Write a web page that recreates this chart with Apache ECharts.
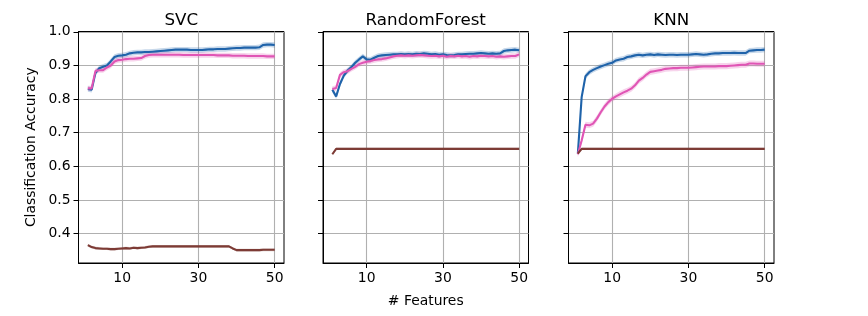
<!DOCTYPE html>
<html>
<head>
<meta charset="utf-8">
<script src="https://cdn.jsdelivr.net/npm/echarts@6/dist/echarts.min.js"></script>
<style>
html,body{margin:0;padding:0;background:#fff;}
#chart{width:868px;height:316px;}
</style>
</head>
<body>
<div id="chart"></div>
<script>
const features = [1,2,3,4,5,6,7,8,9,10,11,12,13,14,15,16,17,18,19,20,21,22,23,24,25,26,27,28,29,30,31,32,33,34,35,36,37,38,39,40,41,42,43,44,45,46,47,48,49,50];
const panelTitles = ['SVC','RandomForest','KNN'];
const xTicks = [10,30,50];
const yTicks = [0.4,0.5,0.6,0.7,0.8,0.9,1.0];

const svcBlue = [0.830,0.828,0.878,0.892,0.896,0.900,0.912,0.925,0.929,0.930,0.932,0.936,0.938,0.939,0.939,0.940,0.940,0.941,0.942,0.943,0.944,0.945,0.946,0.947,0.947,0.947,0.947,0.946,0.946,0.946,0.946,0.947,0.948,0.948,0.949,0.949,0.949,0.950,0.951,0.952,0.952,0.953,0.953,0.953,0.953,0.954,0.961,0.962,0.962,0.961];
const svcPink = [0.832,0.832,0.884,0.886,0.886,0.894,0.900,0.912,0.916,0.917,0.919,0.920,0.920,0.921,0.922,0.928,0.931,0.932,0.932,0.932,0.932,0.932,0.932,0.932,0.932,0.931,0.931,0.931,0.931,0.931,0.931,0.931,0.931,0.931,0.930,0.930,0.930,0.930,0.929,0.929,0.929,0.929,0.928,0.928,0.928,0.928,0.928,0.927,0.927,0.927];
const svcBrown = [0.366,0.360,0.357,0.356,0.355,0.355,0.354,0.354,0.355,0.356,0.357,0.356,0.358,0.357,0.358,0.359,0.361,0.362,0.362,0.362,0.362,0.362,0.362,0.362,0.362,0.362,0.362,0.362,0.362,0.362,0.362,0.362,0.362,0.362,0.362,0.362,0.362,0.362,0.356,0.351,0.351,0.351,0.351,0.351,0.351,0.351,0.352,0.352,0.352,0.352];

const rfBlue = [0.828,0.808,0.845,0.870,0.885,0.895,0.908,0.918,0.927,0.918,0.917,0.923,0.928,0.930,0.931,0.932,0.933,0.933,0.934,0.933,0.934,0.933,0.935,0.934,0.936,0.935,0.933,0.934,0.932,0.933,0.931,0.930,0.931,0.933,0.933,0.934,0.935,0.935,0.936,0.937,0.936,0.935,0.936,0.935,0.936,0.943,0.945,0.946,0.947,0.945];
const rfPink = [0.830,0.833,0.872,0.880,0.883,0.890,0.896,0.904,0.908,0.911,0.913,0.916,0.918,0.919,0.921,0.924,0.927,0.929,0.930,0.929,0.930,0.929,0.930,0.931,0.930,0.929,0.928,0.929,0.927,0.929,0.926,0.928,0.927,0.929,0.927,0.928,0.926,0.928,0.927,0.929,0.928,0.927,0.928,0.926,0.927,0.926,0.927,0.928,0.928,0.933];
const rfBrown = [0.636,0.652,0.652,0.652,0.652,0.652,0.652,0.652,0.652,0.652,0.652,0.652,0.652,0.652,0.652,0.652,0.652,0.652,0.652,0.652,0.652,0.652,0.652,0.652,0.652,0.652,0.652,0.652,0.652,0.652,0.652,0.652,0.652,0.652,0.652,0.652,0.652,0.652,0.652,0.652,0.652,0.652,0.652,0.652,0.652,0.652,0.652,0.652,0.652,0.652];

const knnBlue = [0.638,0.806,0.868,0.880,0.887,0.892,0.897,0.901,0.905,0.908,0.915,0.918,0.920,0.925,0.927,0.930,0.932,0.930,0.932,0.933,0.931,0.933,0.932,0.931,0.932,0.932,0.931,0.932,0.932,0.932,0.933,0.934,0.933,0.932,0.933,0.935,0.936,0.936,0.937,0.937,0.937,0.938,0.937,0.937,0.937,0.944,0.945,0.946,0.946,0.947];
const knnPink = [0.636,0.677,0.724,0.722,0.727,0.742,0.761,0.778,0.791,0.801,0.808,0.814,0.820,0.825,0.831,0.841,0.855,0.863,0.873,0.881,0.883,0.885,0.887,0.890,0.891,0.892,0.892,0.893,0.893,0.893,0.894,0.895,0.896,0.897,0.897,0.897,0.897,0.898,0.898,0.898,0.899,0.900,0.901,0.902,0.902,0.906,0.906,0.905,0.905,0.905];
const knnBrown = [0.638,0.652,0.652,0.652,0.652,0.652,0.652,0.652,0.652,0.652,0.652,0.652,0.652,0.652,0.652,0.652,0.652,0.652,0.652,0.652,0.652,0.652,0.652,0.652,0.652,0.652,0.652,0.652,0.652,0.652,0.652,0.652,0.652,0.652,0.652,0.652,0.652,0.652,0.652,0.652,0.652,0.652,0.652,0.652,0.652,0.652,0.652,0.652,0.652,0.652];

// band half-widths (blue, pink, brown) per panel
const bandSVC = [0.008, 0.008, 0.004];
const bandRF = [0.008, 0.008, 0.003];
const bandKNN = [0.008, 0.009, 0.003];

const panelSeries = [[svcBlue, svcPink, svcBrown],[rfBlue, rfPink, rfBrown],[knnBlue, knnPink, knnBrown]];
const panelBands = [bandSVC, bandRF, bandKNN];
const lineColors = ['#1f63aa', '#e055b5', '#7d3b35'];
const bandColors = ['rgba(31,99,170,0.25)', 'rgba(224,85,181,0.25)', 'rgba(125,59,53,0.28)'];

const gridLefts = [78.5, 323, 568.5];
const gridW = 205.5;
const gridTop = 31.5, gridH = 231.5;
const FONT = 'DejaVu Sans';

const grids = [], xAxes = [], yAxes = [], series = [], graphics = [];
for (let p = 0; p < 3; p++) {
  grids.push({left: gridLefts[p], top: gridTop, width: gridW, height: gridH, show: true,
    borderColor: '#000', borderWidth: 1, backgroundColor: 'transparent'});
  xAxes.push({type: 'value', gridIndex: p, min: -1.45, max: 52.45,
    axisLine: {show: true, onZero: false, lineStyle: {color: '#000', width: 1}},
    axisTick: {show: true, length: 5, lineStyle: {color: '#000', width: 1}, customValues: xTicks},
    axisLabel: {show: true, customValues: xTicks, margin: 8, color: '#000', fontSize: 13.9, fontFamily: FONT},
    splitLine: {show: true, lineStyle: {color: '#b0b0b0', width: 1.1}},
    name: p === 1 ? '# Features' : '', nameLocation: 'middle', nameGap: 31,
    nameTextStyle: {color: '#000', fontSize: 13.9, fontFamily: FONT}});
  yAxes.push({type: 'value', gridIndex: p, min: 0.3127, max: 1.001,
    axisLine: {show: true, onZero: false, lineStyle: {color: '#000', width: 1}},
    axisTick: {show: true, length: 5, lineStyle: {color: '#000', width: 1}, customValues: yTicks},
    axisLabel: {show: p === 0, customValues: yTicks, margin: 8, color: '#000', fontSize: 13.9, fontFamily: FONT,
      formatter: v => v.toFixed(1)},
    splitLine: {show: true, lineStyle: {color: '#b0b0b0', width: 1.1}},
    name: p === 0 ? 'Classification Accuracy' : '', nameLocation: 'middle', nameGap: 40, nameRotate: 90,
    nameTextStyle: {color: '#000', fontSize: 13.9, fontFamily: FONT}});
  graphics.push({type: 'text', x: gridLefts[p] + gridW / 2, y: 12,
    style: {text: panelTitles[p], fill: '#000', font: '16.7px "DejaVu Sans"', textAlign: 'center', textVerticalAlign: 'top'}});
  for (let s = 0; s < 3; s++) {
    const vals = panelSeries[p][s];
    const hw = panelBands[p][s];
    const bandData = features.map((f, i) => [f, vals[i] - hw, vals[i] + hw]);
    series.push({type: 'custom', xAxisIndex: p, yAxisIndex: p, data: bandData, z: 1, silent: true,
      clip: true,
      renderItem: (params, api) => {
        if (params.dataIndexInside !== 0) return null;
        const n = bandData.length;
        const upper = [], lower = [];
        for (let i = 0; i < n; i++) {
          upper.push(api.coord([bandData[i][0], bandData[i][2]]));
          lower.push(api.coord([bandData[i][0], bandData[i][1]]));
        }
        return {type: 'polygon', shape: {points: upper.concat(lower.reverse())},
          style: {fill: bandColors[s]}};
      },
      encode: {x: 0, y: [1, 2]}});
    series.push({type: 'line', xAxisIndex: p, yAxisIndex: p, z: 3 + s,
      data: features.map((f, i) => [f, vals[i]]),
      showSymbol: false, symbol: 'none', silent: true,
      lineStyle: {color: lineColors[s], width: 2.1}, itemStyle: {color: lineColors[s]}});
  }
}

const chart = echarts.init(document.getElementById('chart'), null, {renderer: 'canvas'});
chart.setOption({
  animation: false,
  backgroundColor: '#fff',
  grid: grids, xAxis: xAxes, yAxis: yAxes, series: series, graphic: graphics
});
</script>
</body>
</html>
